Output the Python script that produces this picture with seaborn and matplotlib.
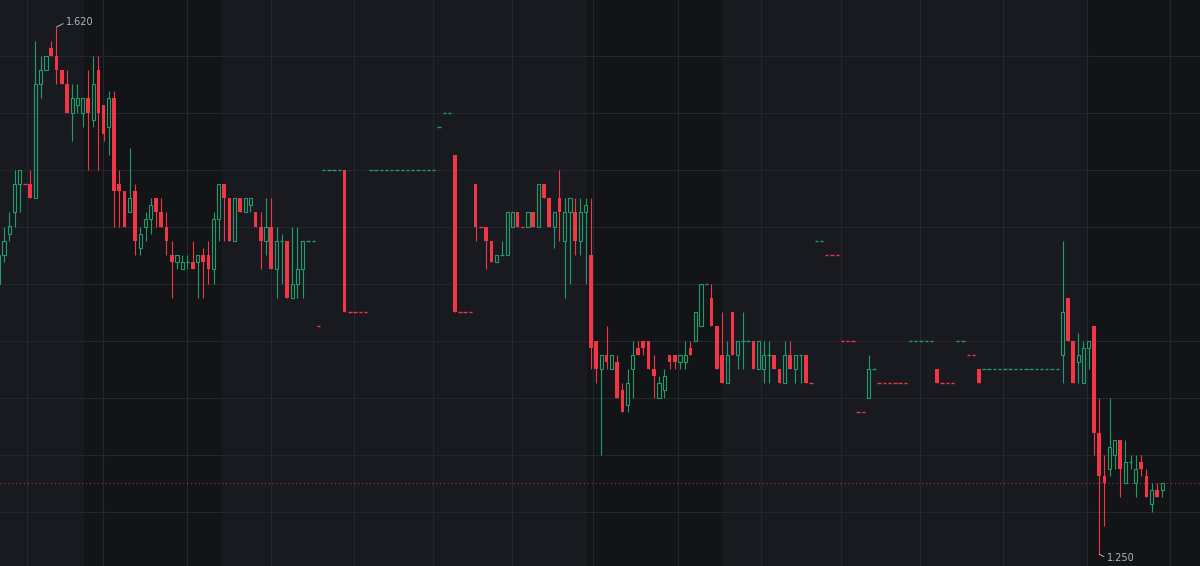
import numpy as np
import pandas as pd
import matplotlib
matplotlib.use("Agg")
import matplotlib.pyplot as plt
import seaborn as sns

# OHLC per candle (tick size 0.005)
open_ = [
    1.44, 1.46, 1.475, 1.49, 1.51, 1.51, 1.51, 1.50, 1.58, 1.59,
    1.605, 1.60, 1.59, 1.58, 1.56, 1.565, 1.56, 1.57, 1.555, 1.59,
    1.565, 1.55, 1.57, 1.51, 1.505, 1.49, 1.505, 1.465, 1.48, 1.485,
    1.50, 1.49, 1.48, 1.46, 1.455, 1.45, 1.455, 1.455, 1.455, 1.46,
    1.46, 1.45, 1.485, 1.51, 1.50, 1.47, 1.50, 1.49, 1.495, 1.49,
    1.48, 1.47, 1.48, 1.45, 1.47, 1.47, 1.43, 1.44, 1.45, 1.47,
    1.47, 1.41, 1.52, 1.52, 1.52, 1.52, 1.52, 1.42, 1.42, 1.42,
    1.42, 1.52, 1.52, 1.52, 1.52, 1.52, 1.52, 1.52, 1.52, 1.52,
    1.52, 1.52, 1.52, 1.52, 1.55, 1.56, 1.56, 1.53, 1.42, 1.42,
    1.42, 1.51, 1.48, 1.48, 1.47, 1.455, 1.46, 1.46, 1.48, 1.49,
    1.48, 1.48, 1.49, 1.48, 1.51, 1.50, 1.48, 1.50, 1.47, 1.49,
    1.49, 1.47, 1.49, 1.46, 1.40, 1.38, 1.39, 1.38, 1.385, 1.365,
    1.355, 1.38, 1.395, 1.40, 1.40, 1.38, 1.36, 1.365, 1.39, 1.39,
    1.385, 1.385, 1.395, 1.40, 1.41, 1.44, 1.43, 1.41, 1.39, 1.37,
    1.42, 1.39, 1.40, 1.40, 1.40, 1.38, 1.38, 1.39, 1.39, 1.38,
    1.37, 1.39, 1.38, 1.39, 1.39, 1.37, 1.47, 1.47, 1.46, 1.46,
    1.46, 1.40, 1.40, 1.40, 1.35, 1.35, 1.36, 1.38, 1.37, 1.37,
    1.37, 1.37, 1.37, 1.37, 1.40, 1.40, 1.40, 1.40, 1.40, 1.38,
    1.37, 1.37, 1.37, 1.40, 1.40, 1.39, 1.39, 1.38, 1.38, 1.38,
    1.38, 1.38, 1.38, 1.38, 1.38, 1.38, 1.38, 1.38, 1.38, 1.38,
    1.38, 1.38, 1.38, 1.39, 1.43, 1.40, 1.385, 1.37, 1.395, 1.41,
    1.335, 1.305, 1.31, 1.32, 1.33, 1.30, 1.315, 1.30, 1.315, 1.305,
    1.285, 1.295, 1.295,
]
high = [
    1.46, 1.48, 1.49, 1.52, 1.52, 1.51, 1.52, 1.61, 1.60, 1.60,
    1.61, 1.62, 1.59, 1.59, 1.58, 1.58, 1.57, 1.59, 1.60, 1.60,
    1.565, 1.575, 1.575, 1.52, 1.505, 1.535, 1.51, 1.48, 1.49, 1.50,
    1.50, 1.50, 1.49, 1.47, 1.46, 1.46, 1.46, 1.47, 1.46, 1.465,
    1.47, 1.49, 1.51, 1.51, 1.50, 1.50, 1.50, 1.50, 1.50, 1.49,
    1.49, 1.50, 1.50, 1.48, 1.475, 1.47, 1.48, 1.48, 1.47, 1.47,
    1.47, 1.41, 1.52, 1.52, 1.52, 1.52, 1.52, 1.42, 1.42, 1.42,
    1.42, 1.52, 1.52, 1.52, 1.52, 1.52, 1.52, 1.52, 1.52, 1.52,
    1.52, 1.52, 1.52, 1.52, 1.55, 1.56, 1.56, 1.53, 1.42, 1.42,
    1.42, 1.51, 1.48, 1.48, 1.47, 1.46, 1.47, 1.49, 1.49, 1.49,
    1.48, 1.49, 1.49, 1.51, 1.51, 1.50, 1.49, 1.52, 1.50, 1.50,
    1.50, 1.50, 1.50, 1.50, 1.40, 1.39, 1.41, 1.39, 1.39, 1.37,
    1.38, 1.40, 1.40, 1.40, 1.40, 1.39, 1.375, 1.38, 1.39, 1.39,
    1.39, 1.40, 1.40, 1.42, 1.44, 1.44, 1.44, 1.41, 1.42, 1.40,
    1.42, 1.40, 1.42, 1.40, 1.40, 1.40, 1.40, 1.40, 1.39, 1.38,
    1.40, 1.40, 1.39, 1.39, 1.39, 1.37, 1.47, 1.47, 1.46, 1.46,
    1.46, 1.40, 1.40, 1.40, 1.35, 1.35, 1.39, 1.38, 1.37, 1.37,
    1.37, 1.37, 1.37, 1.37, 1.40, 1.40, 1.40, 1.40, 1.40, 1.38,
    1.37, 1.37, 1.37, 1.40, 1.40, 1.39, 1.39, 1.38, 1.38, 1.38,
    1.38, 1.38, 1.38, 1.38, 1.38, 1.38, 1.38, 1.38, 1.38, 1.38,
    1.38, 1.38, 1.38, 1.47, 1.43, 1.40, 1.405, 1.40, 1.40, 1.41,
    1.36, 1.32, 1.36, 1.33, 1.33, 1.33, 1.32, 1.32, 1.32, 1.31,
    1.30, 1.30, 1.30,
]
low = [
    1.435, 1.455, 1.47, 1.48, 1.49, 1.51, 1.50, 1.50, 1.57, 1.59,
    1.60, 1.58, 1.58, 1.56, 1.54, 1.56, 1.55, 1.52, 1.55, 1.52,
    1.54, 1.53, 1.48, 1.48, 1.48, 1.49, 1.46, 1.46, 1.47, 1.475,
    1.48, 1.48, 1.46, 1.43, 1.45, 1.45, 1.45, 1.45, 1.43, 1.43,
    1.44, 1.44, 1.47, 1.47, 1.47, 1.47, 1.49, 1.49, 1.49, 1.48,
    1.45, 1.46, 1.45, 1.43, 1.44, 1.43, 1.43, 1.43, 1.43, 1.47,
    1.47, 1.41, 1.52, 1.52, 1.52, 1.52, 1.42, 1.42, 1.42, 1.42,
    1.42, 1.52, 1.52, 1.52, 1.52, 1.52, 1.52, 1.52, 1.52, 1.52,
    1.52, 1.52, 1.52, 1.52, 1.55, 1.56, 1.56, 1.42, 1.42, 1.42,
    1.42, 1.47, 1.48, 1.45, 1.455, 1.455, 1.46, 1.46, 1.48, 1.48,
    1.48, 1.48, 1.48, 1.48, 1.50, 1.48, 1.465, 1.47, 1.43, 1.44,
    1.46, 1.46, 1.44, 1.38, 1.37, 1.32, 1.38, 1.38, 1.36, 1.35,
    1.35, 1.36, 1.39, 1.39, 1.38, 1.36, 1.36, 1.36, 1.38, 1.38,
    1.38, 1.38, 1.39, 1.40, 1.41, 1.44, 1.41, 1.38, 1.37, 1.37,
    1.39, 1.38, 1.38, 1.40, 1.38, 1.38, 1.37, 1.37, 1.38, 1.37,
    1.37, 1.38, 1.37, 1.37, 1.37, 1.37, 1.47, 1.47, 1.46, 1.46,
    1.46, 1.40, 1.40, 1.40, 1.35, 1.35, 1.36, 1.38, 1.37, 1.37,
    1.37, 1.37, 1.37, 1.37, 1.40, 1.40, 1.40, 1.40, 1.40, 1.37,
    1.37, 1.37, 1.37, 1.40, 1.40, 1.39, 1.39, 1.37, 1.38, 1.38,
    1.38, 1.38, 1.38, 1.38, 1.38, 1.38, 1.38, 1.38, 1.38, 1.38,
    1.38, 1.38, 1.38, 1.37, 1.40, 1.37, 1.37, 1.37, 1.38, 1.32,
    1.25, 1.27, 1.305, 1.31, 1.29, 1.30, 1.31, 1.29, 1.305, 1.29,
    1.28, 1.29, 1.29,
]
close = [
    1.46, 1.47, 1.48, 1.51, 1.52, 1.51, 1.50, 1.58, 1.59, 1.60,
    1.60, 1.59, 1.58, 1.56, 1.57, 1.57, 1.57, 1.56, 1.58, 1.56,
    1.545, 1.57, 1.505, 1.505, 1.48, 1.50, 1.47, 1.475, 1.485, 1.495,
    1.49, 1.48, 1.47, 1.455, 1.46, 1.455, 1.455, 1.45, 1.46, 1.455,
    1.45, 1.485, 1.51, 1.50, 1.47, 1.50, 1.49, 1.50, 1.50, 1.48,
    1.47, 1.48, 1.45, 1.47, 1.47, 1.43, 1.44, 1.45, 1.47, 1.47,
    1.47, 1.41, 1.52, 1.52, 1.52, 1.52, 1.42, 1.42, 1.42, 1.42,
    1.42, 1.52, 1.52, 1.52, 1.52, 1.52, 1.52, 1.52, 1.52, 1.52,
    1.52, 1.52, 1.52, 1.52, 1.55, 1.56, 1.56, 1.42, 1.42, 1.42,
    1.42, 1.48, 1.48, 1.47, 1.455, 1.46, 1.46, 1.49, 1.49, 1.48,
    1.48, 1.49, 1.48, 1.51, 1.50, 1.48, 1.49, 1.49, 1.49, 1.50,
    1.47, 1.49, 1.495, 1.395, 1.38, 1.39, 1.385, 1.39, 1.36, 1.35,
    1.37, 1.39, 1.39, 1.395, 1.38, 1.375, 1.37, 1.375, 1.385, 1.385,
    1.39, 1.39, 1.39, 1.42, 1.44, 1.44, 1.41, 1.38, 1.37, 1.39,
    1.39, 1.40, 1.40, 1.40, 1.38, 1.40, 1.39, 1.39, 1.38, 1.37,
    1.39, 1.38, 1.39, 1.39, 1.37, 1.37, 1.47, 1.47, 1.46, 1.46,
    1.46, 1.40, 1.40, 1.40, 1.35, 1.35, 1.38, 1.38, 1.37, 1.37,
    1.37, 1.37, 1.37, 1.37, 1.40, 1.40, 1.40, 1.40, 1.40, 1.37,
    1.37, 1.37, 1.37, 1.40, 1.40, 1.39, 1.39, 1.37, 1.38, 1.38,
    1.38, 1.38, 1.38, 1.38, 1.38, 1.38, 1.38, 1.38, 1.38, 1.38,
    1.38, 1.38, 1.38, 1.42, 1.40, 1.37, 1.39, 1.395, 1.40, 1.335,
    1.305, 1.30, 1.325, 1.33, 1.31, 1.315, 1.315, 1.31, 1.31, 1.29,
    1.295, 1.29, 1.30,
]

# colours / layout
BG = "#181a20"
BAND = "#131417"
GRID = "#24272e"
UP = "#1f9e6c"
DOWN = "#f23645"
TXT = "#b2b5be"

PX = 5.24    # pixels per candle
X0 = -1.2    # pixel x of first candle
def to_idx(px):
    return (px - X0) / PX

band_px = [(84, 222), (587, 722), (1088, 1200)]
vgrid_px = [27, 103, 187, 271, 354, 433, 512, 593, 678, 761, 841, 920, 1003, 1087, 1170]

df = pd.DataFrame({"open": open_, "high": high, "low": low, "close": close})
assert len(set(map(len, (open_, high, low, close)))) == 1
df["i"] = np.arange(len(df))

# candle colour: close vs open, flat candles follow the previous close
cols, prev_c, prev_col = [], None, UP
for o, c in zip(df["open"], df["close"]):
    if np.isclose(c, o):
        if prev_c is None or np.isclose(c, prev_c):
            col = prev_col
        else:
            col = UP if c > prev_c else DOWN
    else:
        col = UP if c > o else DOWN
    cols.append(col)
    prev_c, prev_col = c, col
df["col"] = cols
df["lo"] = df[["open", "close"]].min(axis=1)
df["hi"] = df[["open", "close"]].max(axis=1)
flat = np.isclose(df["open"], df["close"])

sns.set_theme(style="dark", rc={"axes.facecolor": BG, "figure.facecolor": BG,
                                "grid.color": GRID})

fig = plt.figure(figsize=(12, 5.66), dpi=100)
ax = fig.add_axes([0, 0, 1, 1])
ax.set_xlim(to_idx(0), to_idx(1200))
ax.set_ylim(1.62 - 539 / 1425, 1.62 + 27 / 1425)

for a, b in band_px:
    ax.axvspan(to_idx(a), to_idx(b), color=BAND, lw=0, zorder=0)

ax.set_yticks(np.arange(1.28, 1.61, 0.04))
ax.set_xticks([to_idx(p) for p in vgrid_px])
ax.set_axisbelow(True)
ax.grid(True, color=GRID, lw=0.8)
ax.tick_params(length=0, labelleft=False, labelbottom=False)
for s in ax.spines.values():
    s.set_visible(False)

# filled down candles
dn = df[(df["col"] == DOWN) & ~flat]
ax.vlines(dn["i"], dn["low"], dn["high"], color=DOWN, lw=0.8, zorder=2)
ax.bar(dn["i"], dn["hi"] - dn["lo"], bottom=dn["lo"], width=0.7,
       color=DOWN, lw=0, zorder=3)

# hollow up candles
up = df[(df["col"] == UP) & ~flat]
ax.vlines(up["i"], up["low"], up["lo"], color=UP, lw=0.8, zorder=2)
ax.vlines(up["i"], up["hi"], up["high"], color=UP, lw=0.8, zorder=2)
ax.bar(up["i"], up["hi"] - up["lo"], bottom=up["lo"], width=0.6,
       facecolor="none", edgecolor=UP, lw=0.8, zorder=3)

# flat candles: a dash, plus a wick if there was a range
fl = df[flat]
ax.hlines(fl["close"], fl["i"] - 0.32, fl["i"] + 0.32, colors=fl["col"], lw=1.0, zorder=3)
rng = fl[fl["high"] > fl["low"]]
ax.vlines(rng["i"], rng["low"], rng["high"], colors=rng["col"], lw=0.8, zorder=2)

# last price line
ax.axhline(df["close"].iloc[-1], color=DOWN, lw=0.8, alpha=0.75,
           linestyle=(0, (1, 2.5)), zorder=1)

# high / low labels
ih, il = int(df["high"].idxmax()), int(df["low"].idxmin())
arrow = dict(arrowstyle="-", color=TXT, lw=0.7, shrinkA=0, shrinkB=0, relpos=(0, 0.5))
ax.annotate(f"{df['high'].max():.3f}", xy=(ih, df["high"].max()), xytext=(10, 5),
            textcoords="offset pixels", ha="left", va="center", color=TXT,
            fontsize=7, arrowprops=arrow)
ax.annotate(f"{df['low'].min():.3f}", xy=(il, df["low"].min()), xytext=(8, -4),
            textcoords="offset pixels", ha="left", va="center", color=TXT,
            fontsize=7, arrowprops=arrow)

fig.savefig("out.png", dpi=100, facecolor=BG)
